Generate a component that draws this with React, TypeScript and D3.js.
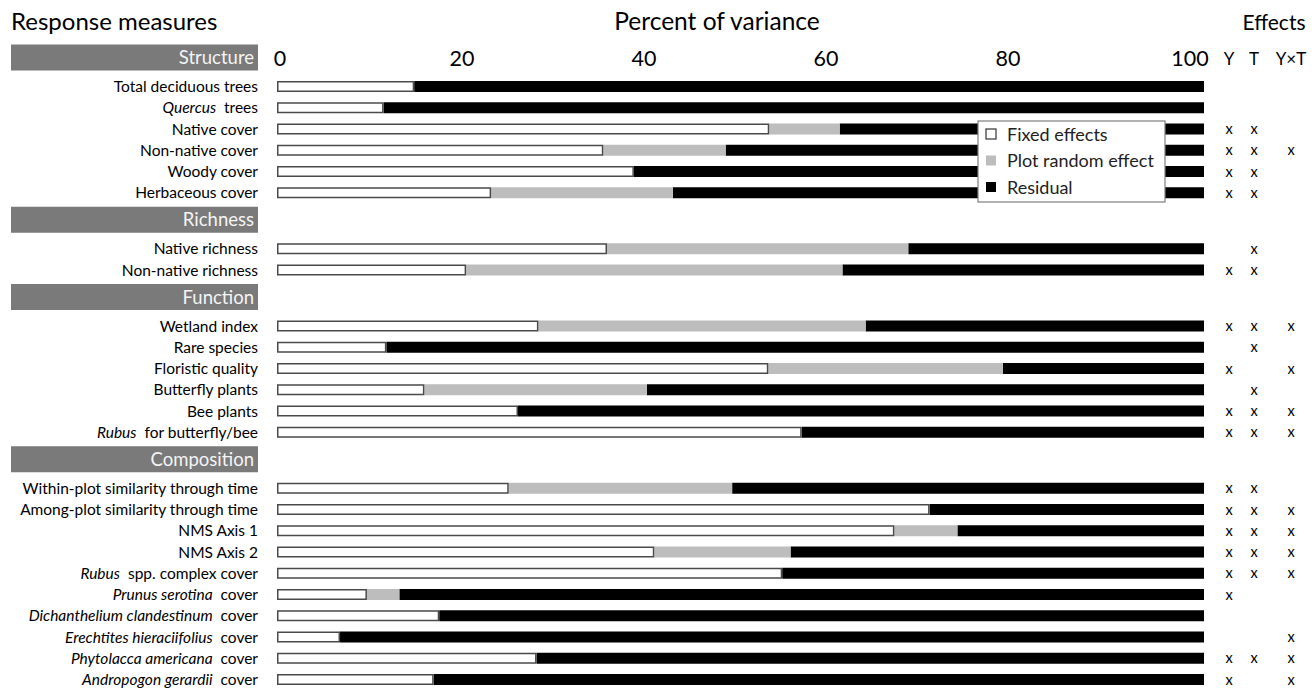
import React, { useEffect, useRef } from 'react';
import * as d3 from 'd3';

// response measures, grouped; *...* marks the italic (species) part of a label
const groups = ['Structure', 'Richness', 'Function', 'Composition'];
const measures = [
  'Total deciduous trees', '*Quercus*  trees', 'Native cover', 'Non-native cover', 'Woody cover', 'Herbaceous cover',
  'Native richness', 'Non-native richness',
  'Wetland index', 'Rare species', 'Floristic quality', 'Butterfly plants', 'Bee plants', '*Rubus*  for butterfly/bee',
  'Within-plot similarity through time', 'Among-plot similarity through time', 'NMS Axis 1', 'NMS Axis 2',
  '*Rubus*  spp. complex cover', '*Prunus serotina*  cover', '*Dichanthelium clandestinum*  cover',
  '*Erechtites hieraciifolius*  cover', '*Phytolacca americana*  cover', '*Andropogon gerardii*  cover',
];
const measureGroup = [
  'Structure', 'Structure', 'Structure', 'Structure', 'Structure', 'Structure',
  'Richness', 'Richness',
  'Function', 'Function', 'Function', 'Function', 'Function', 'Function',
  'Composition', 'Composition', 'Composition', 'Composition', 'Composition',
  'Composition', 'Composition', 'Composition', 'Composition', 'Composition',
];
// percent of variance
const fixedEffects = [
  14.8, 11.5, 53.1, 35.2, 38.5, 23.1,
  35.6, 20.4,
  28.2, 11.8, 53.0, 15.9, 26.0, 56.6,
  25.0, 70.4, 66.6, 40.7, 54.5, 9.7, 17.5, 6.8, 28.0, 16.9,
];
const plotRandom = [
  0, 0, 7.6, 13.2, 0, 19.6,
  32.5, 40.6,
  35.3, 0, 25.3, 24.0, 0, 0,
  24.1, 0, 6.8, 14.7, 0, 3.5, 0, 0, 0, 0,
];
// significant effects: year, treatment, year x treatment
const effectY = [0, 0, 1, 1, 1, 1, 0, 1, 1, 0, 1, 0, 1, 1, 1, 1, 1, 1, 1, 1, 0, 0, 1, 1];
const effectT = [0, 0, 1, 1, 1, 1, 1, 1, 1, 1, 0, 1, 1, 1, 1, 1, 1, 1, 1, 0, 0, 0, 1, 0];
const effectYT = [0, 0, 0, 1, 0, 0, 0, 0, 1, 0, 1, 0, 1, 1, 0, 1, 1, 1, 1, 0, 0, 1, 1, 1];

const ticks = [0, 20, 40, 60, 80, 100];
const effectCols = ['Y', 'T', 'Y×T'];
const legendItems = ['Fixed effects', 'Plot random effect', 'Residual'];

const FONT = 'Lato, "Open Sans", sans-serif';

export default function App() {
  const ref = useRef<SVGSVGElement>(null);

  useEffect(() => {
    const svg = d3.select(ref.current);
    svg.selectAll('*').remove();

    const x = d3.scaleLinear().domain([0, 100]).range([277, 1204]);
    const tickX = d3.scalePoint<number>().domain(ticks).range([280, 1190]);
    const colX = d3.scaleOrdinal<string, number>().domain(effectCols).range([1229, 1254, 1291]);
    const legendColor = d3.scaleOrdinal<string, string>().domain(legendItems).range(['#fff', '#bdbdbd', '#000']);

    // vertical layout: a header band for each group, then its rows
    const rowY: number[] = [];
    const headerY: number[] = [];
    let cur = 57.5;
    groups.forEach((g) => {
      headerY.push(cur);
      cur += 29;
      measures.forEach((m, i) => {
        if (measureGroup[i] === g) {
          rowY[i] = cur;
          cur += 21.25;
        }
      });
      cur += 27 - 21.25;
    });

    const g = svg.append('g').style('font-family', FONT);

    // titles
    g.append('text').attr('x', 11).attr('y', 30).style('font-size', 24).text('Response measures');
    g.append('text').attr('x', 717).attr('y', 30).attr('text-anchor', 'middle').style('font-size', 24.5).text('Percent of variance');
    g.append('text').attr('x', 1274).attr('y', 30).attr('text-anchor', 'middle').style('font-size', 21).text('Effects');

    // group header bands
    groups.forEach((name, i) => {
      g.append('rect')
        .attr('x', 11).attr('y', headerY[i] - 13)
        .attr('width', 247).attr('height', 26)
        .attr('fill', '#7a7a7a');
      g.append('text')
        .attr('x', 254).attr('y', headerY[i] + 6.5)
        .attr('text-anchor', 'end')
        .attr('fill', '#f4f4f4')
        .style('font-size', 18.5)
        .text(name);
    });

    // axis tick labels along the top
    g.selectAll('.tick-label')
      .data(ticks)
      .enter()
      .append('text')
      .attr('class', 'tick-label')
      .attr('x', (d) => tickX(d)!)
      .attr('y', headerY[0] + 8)
      .attr('text-anchor', 'middle')
      .style('font-size', 21.5)
      .text((d) => d);

    // effect column headings
    effectCols.forEach((c) => {
      g.append('text')
        .attr('x', colX(c)).attr('y', headerY[0] + 7)
        .attr('text-anchor', 'middle')
        .style('font-size', 17)
        .text(c);
    });

    // row labels with italic species names
    measures.forEach((m, i) => {
      const t = g.append('text')
        .attr('x', 258).attr('y', rowY[i] + 5.5)
        .attr('text-anchor', 'end')
        .style('font-size', 15.5)
        .attr('xml:space', 'preserve')
        .style('white-space', 'pre');
      m.split('*').forEach((part, k) => {
        if (!part) return;
        t.append('tspan').style('font-style', k % 2 === 1 ? 'italic' : 'normal').text(part);
      });
    });

    // stacked bars
    const barH = 11;
    const rows = g.selectAll('.row')
      .data(measures.map((m, i) => i))
      .enter()
      .append('g')
      .attr('class', 'row');

    rows.append('rect')
      .attr('x', (i) => x(fixedEffects[i] + plotRandom[i]))
      .attr('y', (i) => rowY[i] - barH / 2)
      .attr('width', (i) => x(100) - x(fixedEffects[i] + plotRandom[i]))
      .attr('height', barH)
      .attr('fill', '#000');

    rows.filter((i) => plotRandom[i] > 0)
      .append('rect')
      .attr('x', (i) => x(fixedEffects[i]))
      .attr('y', (i) => rowY[i] - barH / 2)
      .attr('width', (i) => x(fixedEffects[i] + plotRandom[i]) - x(fixedEffects[i]))
      .attr('height', barH)
      .attr('fill', '#bdbdbd');

    rows.append('rect')
      .attr('x', x(0) + 0.75)
      .attr('y', (i) => rowY[i] - barH / 2 + 0.75)
      .attr('width', (i) => x(fixedEffects[i]) - x(0) - 1.5)
      .attr('height', barH - 1.5)
      .attr('fill', '#fff')
      .attr('stroke', '#4a4a4a')
      .attr('stroke-width', 1.5);

    // effect marks
    const effectSets = [effectY, effectT, effectYT];
    effectSets.forEach((set, c) => {
      g.selectAll('.eff' + c)
        .data(set.map((v, i) => ({ v, i })).filter((d) => d.v))
        .enter()
        .append('text')
        .attr('x', colX(effectCols[c]))
        .attr('y', (d) => rowY[d.i] + 5)
        .attr('text-anchor', 'middle')
        .style('font-size', 14.5)
        .text('x');
    });

    // legend
    const lg = g.append('g').attr('transform', 'translate(978,121)');
    lg.append('rect')
      .attr('width', 187).attr('height', 81)
      .attr('fill', '#fff')
      .attr('stroke', '#7f7f7f')
      .attr('stroke-width', 1.2);
    legendItems.forEach((name, i) => {
      const cy = 13 + i * 26.5;
      lg.append('rect')
        .attr('x', 8).attr('y', cy - 5)
        .attr('width', 10).attr('height', 10)
        .attr('fill', legendColor(name))
        .attr('stroke', i === 0 ? '#333' : 'none')
        .attr('stroke-width', 1.2);
      lg.append('text')
        .attr('x', 29).attr('y', cy + 6.5)
        .style('font-size', 18)
        .attr('fill', '#222')
        .text(name);
    });
  }, []);

  return (
    <svg
      ref={ref}
      width={1312}
      height={688}
      style={{ position: 'absolute', left: 0, top: 0, display: 'block', background: '#fff' }}
    />
  );
}
